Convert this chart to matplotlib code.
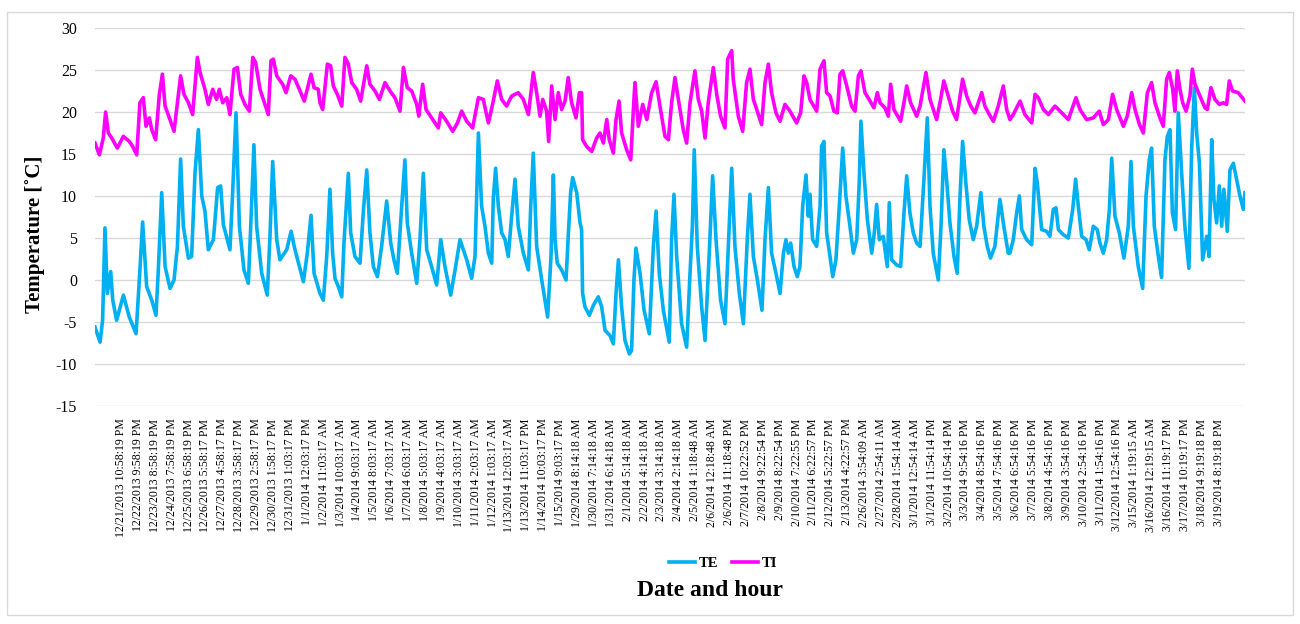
import matplotlib.pyplot as plt
from matplotlib.lines import Line2D
from matplotlib.patches import Rectangle

plt.rcParams['font.family'] = ['Liberation Serif', 'DejaVu Serif']
plt.rcParams['axes.unicode_minus'] = False

# category labels shown on the x axis (one every 23 records)
tick_labels = [
    '12/21/2013 10:58:19 PM', '12/22/2013 9:58:19 PM', '12/23/2013 8:58:19 PM',
    '12/24/2013 7:58:19 PM', '12/25/2013 6:58:19 PM', '12/26/2013 5:58:17 PM',
    '12/27/2013 4:58:17 PM', '12/28/2013 3:58:17 PM', '12/29/2013 2:58:17 PM',
    '12/30/2013 1:58:17 PM', '12/31/2013 1:03:17 PM', '1/1/2014 12:03:17 PM',
    '1/2/2014 11:03:17 AM', '1/3/2014 10:03:17 AM', '1/4/2014 9:03:17 AM',
    '1/5/2014 8:03:17 AM', '1/6/2014 7:03:17 AM', '1/7/2014 6:03:17 AM',
    '1/8/2014 5:03:17 AM', '1/9/2014 4:03:17 AM', '1/10/2014 3:03:17 AM',
    '1/11/2014 2:03:17 AM', '1/12/2014 1:03:17 AM', '1/13/2014 12:03:17 AM',
    '1/13/2014 11:03:17 PM', '1/14/2014 10:03:17 PM', '1/15/2014 9:03:17 PM',
    '1/29/2014 8:14:18 AM', '1/30/2014 7:14:18 AM', '1/31/2014 6:14:18 AM',
    '2/1/2014 5:14:18 AM', '2/2/2014 4:14:18 AM', '2/3/2014 3:14:18 AM',
    '2/4/2014 2:14:18 AM', '2/5/2014 1:18:48 AM', '2/6/2014 12:18:48 AM',
    '2/6/2014 11:18:48 PM', '2/7/2014 10:22:52 PM', '2/8/2014 9:22:54 PM',
    '2/9/2014 8:22:54 PM', '2/10/2014 7:22:55 PM', '2/11/2014 6:22:57 PM',
    '2/12/2014 5:22:57 PM', '2/13/2014 4:22:57 PM', '2/26/2014 3:54:09 AM',
    '2/27/2014 2:54:11 AM', '2/28/2014 1:54:14 AM', '3/1/2014 12:54:14 AM',
    '3/1/2014 11:54:14 PM', '3/2/2014 10:54:14 PM', '3/3/2014 9:54:16 PM',
    '3/4/2014 8:54:16 PM', '3/5/2014 7:54:16 PM', '3/6/2014 6:54:16 PM',
    '3/7/2014 5:54:16 PM', '3/8/2014 4:54:16 PM', '3/9/2014 3:54:16 PM',
    '3/10/2014 2:54:16 PM', '3/11/2014 1:54:16 PM', '3/12/2014 12:54:16 PM',
    '3/15/2014 1:19:15 AM', '3/16/2014 12:19:15 AM', '3/16/2014 11:19:17 PM',
    '3/17/2014 10:19:17 PM', '3/18/2014 9:19:18 PM', '3/19/2014 8:19:18 PM',
]

# TE (outdoor) - time in label steps, temperature in degC
te_time = [
    -1.54, -1.24, -1.09, -0.95, -0.81, -0.61, -0.49, -0.26, 0.14, 0.49, 0.89, 1.12, 1.28, 1.52, 1.82,
    2.07, 2.21, 2.41, 2.61, 2.90, 3.14, 3.34, 3.53, 3.69, 3.99, 4.18, 4.38, 4.58, 4.78, 4.97, 5.17,
    5.47, 5.72, 5.90, 6.06, 6.45, 6.61, 6.81, 7.01, 7.28, 7.54, 7.68, 7.87, 8.03, 8.33, 8.66, 8.82,
    8.98, 9.22, 9.41, 9.81, 10.07, 10.30, 10.80, 11.03, 11.25, 11.43, 11.78,
    11.98, 12.18, 12.37, 12.53, 12.67, 12.87, 13.07, 13.20, 13.46, 13.60, 13.85, 14.15, 14.35, 14.55,
    14.74, 14.94, 15.18, 15.43, 15.73, 15.97, 16.16, 16.36, 16.62, 16.81, 16.95, 17.21, 17.51, 17.70,
    17.90, 18.10, 18.39, 18.69, 18.93, 19.18, 19.52, 19.78, 20.07, 20.47, 20.76, 20.96, 21.16, 21.35,
    21.55, 21.75, 21.95, 22.04, 22.18, 22.34, 22.54, 22.74, 22.93, 23.13, 23.33, 23.52, 23.82, 24.12,
    24.26, 24.41, 24.61, 24.91, 25.26,
    25.46, 25.60, 25.70, 25.83, 26.09, 26.35, 26.48, 26.62, 26.74, 26.98, 27.18, 27.27, 27.33, 27.47,
    27.73, 27.97, 28.26, 28.46, 28.66, 28.95, 29.15, 29.31, 29.45, 29.64, 29.84, 30.10, 30.23, 30.37,
    30.49, 30.73, 30.97, 31.28, 31.52, 31.68, 31.87, 32.11, 32.46, 32.60, 32.74, 32.90, 33.19, 33.49,
    33.69, 33.83, 33.94, 34.12, 34.38, 34.58, 34.83, 35.03, 35.23, 35.50, 35.76, 35.96, 36.16, 36.35,
    36.61, 36.85, 37.08, 37.24, 37.44, 37.68, 37.95, 38.13, 38.33, 38.52, 38.78, 39.02,
    39.22, 39.37, 39.51, 39.65, 39.85, 40.04, 40.20, 40.36, 40.56, 40.69, 40.79, 40.95, 41.19, 41.39,
    41.48, 41.62, 41.78, 41.98, 42.14, 42.33, 42.53, 42.73, 42.92, 43.16, 43.36, 43.56, 43.71, 43.81,
    43.99, 44.19, 44.45, 44.60, 44.74, 44.90, 45.13, 45.37, 45.49, 45.63, 45.92, 46.16, 46.36, 46.52,
    46.71, 46.91, 47.11, 47.31, 47.54, 47.74, 47.90, 48.09, 48.39, 48.55, 48.72, 48.88, 49.08, 49.32,
    49.51, 49.67, 49.83, 50.02, 50.22, 50.46, 50.66, 50.91, 51.09, 51.29, 51.48, 51.74, 52.04, 52.27,
    52.53,
    52.63, 52.83, 53.03, 53.19, 53.33, 53.62, 53.92, 54.12, 54.25, 54.51, 54.80, 55.00, 55.20, 55.36,
    55.50, 55.79, 56.09, 56.35, 56.52, 56.68, 56.88, 57.14, 57.33, 57.57, 57.80, 57.96, 58.16, 58.36,
    58.52, 58.66, 58.85, 59.11, 59.38, 59.64, 59.80, 59.94, 60.23, 60.49, 60.69, 60.88, 61.02, 61.18,
    61.42, 61.61, 61.81, 61.95, 62.11, 62.25, 62.44, 62.60, 62.80, 62.99, 63.23, 63.39, 63.55, 63.69,
    63.85, 64.04, 64.28, 64.42, 64.58, 64.71, 64.87, 65.03, 65.17, 65.30, 65.50, 65.66, 65.86, 66.05,
    66.25, 66.45, 66.55,
]
te_temp = [
    -5.6, -7.4, -4.8, 6.2, -1.6, 1.0, -2.4, -4.8, -1.8, -4.4, -6.4, 1.2, 6.9, -0.8, -2.4,
    -4.2, 1.2, 10.4, 1.6, -1.0, 0.0, 4.0, 14.4, 6.4, 2.6, 2.8, 12.7, 17.9, 10.0, 8.2, 3.6,
    4.8, 11.0, 11.2, 6.6, 3.6, 10.4, 19.9, 6.4, 1.2, -0.4, 6.4, 16.1, 6.4, 0.8, -1.8, 5.2,
    14.1, 4.8, 2.4, 3.6, 5.8, 3.6, -0.2, 3.2, 7.7, 0.8, -1.6,
    -2.4, 2.8, 10.8, 3.2, 0.2, -0.8, -2.0, 4.4, 12.7, 5.6, 2.8, 2.0, 8.2, 13.1,
    5.6, 1.6, 0.4, 4.0, 9.4, 4.4, 2.4, 0.8, 8.8, 14.3, 6.8, 3.2, -0.4, 4.8,
    12.7, 3.6, 1.6, -0.6, 4.8, 1.6, -1.8, 1.2, 4.8, 2.4, 0.2, 2.8, 17.5, 8.8,
    6.4, 3.2, 2.0, 9.6, 13.3, 8.8, 5.6, 4.8, 2.8, 7.6, 12.0, 6.4, 3.2, 1.2,
    8.8, 15.1, 4.0, 0.0, -4.4,
    2.8, 12.5, 4.8, 2.0, 1.2, 0.0, 5.2, 10.4, 12.2, 10.4, 6.8, 6.0, -1.6, -3.2,
    -4.2, -3.0, -2.0, -3.2, -6.0, -6.6, -7.6, -1.6, 2.4, -3.2, -7.2, -8.8, -8.4, 0.0,
    3.8, 0.8, -3.6, -6.4, 4.0, 8.2, 0.8, -3.6, -7.4, 4.8, 10.2, 2.8, -5.2, -8.0,
    0.8, 6.4, 15.5, 4.0, -3.2, -7.2, 3.2, 12.4, 4.8, -2.4, -5.2, 4.0, 13.3, 4.0,
    -1.6, -5.2, 4.8, 10.2, 2.8, 0.0, -3.6, 4.8, 11.0, 3.2, 0.8, -1.6,
    3.2, 4.8, 3.2, 4.4, 1.6, 0.4, 1.6, 8.8, 12.5, 7.6, 10.2, 4.8, 4.0, 8.8,
    15.9, 16.5, 5.6, 2.8, 0.4, 2.4, 8.8, 15.7, 10.0, 6.4, 3.2, 4.8, 11.6, 18.9,
    12.7, 7.2, 3.2, 5.6, 9.0, 4.8, 5.2, 1.6, 9.2, 2.4, 1.8, 1.6, 8.0, 12.4,
    8.0, 5.6, 4.4, 4.0, 12.0, 19.3, 8.8, 3.2, 0.0, 6.4, 15.5, 12.0, 6.8, 2.8,
    0.8, 9.6, 16.5, 11.6, 7.2, 4.8, 6.4, 10.4, 6.4, 4.0, 2.6, 4.0, 9.6, 6.4,
    3.2,
    3.2, 4.8, 8.0, 10.0, 6.0, 4.8, 4.2, 13.3, 11.6, 6.0, 5.8, 5.2, 8.4, 8.6,
    6.0, 5.4, 5.0, 8.4, 12.0, 8.8, 5.2, 4.8, 3.6, 6.4, 6.0, 4.4, 3.2, 4.8,
    8.4, 14.5, 7.6, 5.6, 2.6, 6.4, 14.1, 6.4, 1.6, -1.0, 10.0, 14.3, 15.7, 6.4,
    2.8, 0.3, 14.3, 17.1, 17.9, 8.0, 6.0, 19.9, 12.7, 6.4, 1.4, 15.5, 22.9, 17.5,
    13.9, 2.4, 5.2, 2.8, 16.7, 9.6, 6.8, 11.2, 6.4, 10.8, 5.8, 13.1, 13.9, 12.0,
    10.0, 8.4, 10.4,
]

# TI (indoor)
ti_time = [
    -1.54, -1.28, -1.05, -0.91, -0.75, -0.55, -0.22, 0.14, 0.49, 0.69, 0.93, 1.12, 1.32, 1.48, 1.68,
    1.82, 2.05, 2.27, 2.45, 2.61, 2.90, 3.14, 3.34, 3.53, 3.73, 3.99, 4.24, 4.40, 4.52, 4.68,
    4.97, 5.17, 5.43, 5.66, 5.82, 6.02, 6.26, 6.45, 6.69, 6.89, 7.09, 7.34, 7.60, 7.80, 7.97,
    8.23, 8.72, 8.88, 9.02, 9.22, 9.57, 9.77, 10.05, 10.30, 10.56, 10.85, 11.25, 11.43, 11.68,
    11.78, 11.94, 12.22, 12.41, 12.57, 12.81, 13.07, 13.26, 13.46, 13.66, 13.95, 14.19, 14.55, 14.74,
    15.04, 15.30, 15.63, 15.93, 16.22, 16.52, 16.72, 16.95, 17.21, 17.51, 17.63, 17.86, 18.06, 18.39,
    18.79, 18.93, 19.28, 19.64, 19.92, 20.17, 20.47, 20.82, 21.16, 21.45, 21.75, 22.00, 22.28, 22.54,
    22.83, 23.13, 23.52, 23.82, 24.12, 24.41, 24.61, 24.81, 24.97, 25.20, 25.32,
    25.50, 25.70, 25.89, 26.09, 26.29, 26.48, 26.68, 26.94, 27.14, 27.27, 27.33, 27.57, 27.87, 28.16,
    28.36, 28.56, 28.76, 28.91, 29.15, 29.31, 29.49, 29.64, 29.94, 30.18, 30.37, 30.43, 30.63, 30.89,
    31.13, 31.42, 31.68, 31.91, 32.21, 32.41, 32.60, 32.80, 33.00, 33.29, 33.49, 33.69, 33.98, 34.18,
    34.38, 34.58, 34.77, 35.07, 35.27, 35.50, 35.76, 35.92, 36.16, 36.25, 36.55, 36.81, 37.04, 37.24,
    37.44, 37.64, 37.93, 38.13, 38.33, 38.52, 38.78, 39.02,
    39.31, 39.61, 40.00, 40.24, 40.44, 40.60, 40.79, 41.19, 41.39, 41.62, 41.78, 41.98, 42.21, 42.41,
    42.57, 42.73, 42.97, 43.26, 43.46, 43.66, 43.81, 44.05, 44.35, 44.58, 44.78, 44.94, 45.23, 45.43,
    45.57, 45.76, 46.16, 46.39, 46.52, 46.75, 47.11, 47.31, 47.66, 47.90, 48.29, 48.49, 48.72, 48.98,
    49.24, 49.47, 49.83, 50.07, 50.31, 50.56, 50.96, 51.15, 51.41, 51.65, 51.94, 52.24, 52.44,
    52.63, 52.83, 53.23, 53.52, 53.92, 54.12, 54.31, 54.61, 54.91, 55.30, 55.60, 56.09, 56.54, 56.78,
    57.17, 57.57, 57.92, 58.16, 58.46, 58.71, 58.95, 59.35, 59.58, 59.84, 60.04, 60.30, 60.53, 60.77,
    61.02, 61.22, 61.48, 61.71, 61.91, 62.07, 62.27, 62.40, 62.54, 62.70, 62.86, 63.06, 63.29, 63.43,
    63.59, 63.88, 64.18, 64.32, 64.53, 64.77, 65.03, 65.26, 65.46, 65.62, 65.81, 66.15, 66.55,
]
ti_temp = [
    16.3, 14.9, 16.9, 20.0, 17.5, 16.9, 15.7, 17.1, 16.5, 15.9, 14.9, 21.1, 21.7, 18.3, 19.3,
    17.9, 16.7, 22.1, 24.5, 20.7, 19.1, 17.7, 21.1, 24.3, 22.1, 21.1, 19.7, 23.5, 26.5, 24.7,
    22.7, 20.9, 22.7, 21.5, 22.7, 21.1, 21.7, 19.7, 25.1, 25.3, 22.1, 20.9, 20.1, 26.5, 25.9,
    22.7, 19.7, 26.1, 26.3, 24.3, 23.3, 22.3, 24.3, 23.9, 22.7, 21.3, 24.5, 22.9, 22.7,
    21.1, 20.3, 25.7, 25.5, 23.1, 22.1, 20.7, 26.5, 25.7, 23.5, 22.7, 21.3, 25.5, 23.3,
    22.5, 21.5, 23.5, 22.5, 21.7, 20.1, 25.3, 22.9, 22.5, 20.9, 19.5, 23.3, 20.3, 19.3,
    18.1, 19.9, 18.9, 17.7, 18.7, 20.1, 18.9, 18.1, 21.7, 21.5, 18.7, 20.9, 23.7, 21.5,
    20.7, 21.9, 22.3, 21.5, 19.7, 24.7, 22.3, 19.5, 21.5, 20.1, 16.5,
    23.1, 19.1, 22.3, 20.3, 21.3, 24.1, 21.1, 19.3, 22.3, 22.3, 16.7, 15.9, 15.3, 16.9,
    17.5, 16.3, 19.1, 16.7, 15.1, 19.1, 21.3, 17.5, 15.5, 14.3, 21.5, 23.5, 18.3, 20.9,
    19.1, 22.3, 23.6, 20.7, 17.1, 16.7, 21.1, 24.1, 21.5, 17.9, 16.3, 21.1, 24.9, 21.5,
    20.1, 16.9, 21.1, 25.3, 22.1, 19.5, 18.1, 26.3, 27.3, 23.9, 19.5, 17.7, 23.5, 25.1,
    21.5, 20.3, 18.5, 23.5, 25.7, 22.3, 19.9, 18.9,
    20.9, 20.1, 18.7, 19.9, 24.3, 23.5, 21.5, 20.1, 25.1, 26.1, 22.3, 21.9, 20.1, 19.9,
    24.5, 24.9, 23.1, 20.7, 20.1, 24.3, 24.9, 22.3, 21.3, 20.5, 22.3, 21.1, 20.5, 19.5,
    23.3, 20.3, 18.9, 21.5, 23.1, 21.1, 19.5, 20.7, 24.7, 21.5, 19.1, 21.1, 23.7, 21.9,
    20.1, 19.1, 23.9, 21.9, 20.7, 19.9, 22.3, 20.7, 19.7, 18.9, 20.7, 23.1, 20.3,
    19.1, 19.7, 21.3, 19.7, 18.7, 22.1, 21.7, 20.3, 19.7, 20.7, 20.1, 19.1, 21.7, 20.3,
    19.1, 19.3, 20.1, 18.5, 19.1, 22.1, 20.3, 18.3, 19.5, 22.3, 20.3, 18.5, 17.5, 22.3,
    23.5, 21.1, 19.5, 18.3, 23.9, 24.7, 22.7, 20.1, 24.9, 22.7, 21.1, 20.1, 21.9, 25.1,
    23.3, 21.9, 20.5, 20.3, 22.9, 21.5, 20.9, 21.1, 20.9, 23.7, 22.5, 22.3, 21.3,
]

W, H = 1300, 624
fig = plt.figure(figsize=(W / 100, H / 100), dpi=100)
fig.patches.append(Rectangle((7 / W, 9 / H), 1286 / W, 603 / H, transform=fig.transFigure,
                             fill=False, edgecolor='#d9d9d9', lw=1))

ax = fig.add_axes([95 / W, 1 - 406 / H, 1150 / W, 378 / H])
ax.plot(te_time, te_temp, color='#00b0f0', lw=2.6)
ax.plot(ti_time, ti_temp, color='#ff00ff', lw=2.6)

ax.set_xlim(-1.54, 66.55)
ax.set_ylim(-15, 30)
ax.set_yticks(range(-15, 31, 5))
ax.set_xticks(range(len(tick_labels)))
ax.set_xticklabels(tick_labels, rotation=90, fontsize=8.5)
ax.tick_params(length=0)
ax.tick_params(axis='y', labelsize=11.5, pad=13)
ax.tick_params(axis='x', pad=9)
ax.grid(axis='y', color='#d9d9d9', lw=1)
ax.set_axisbelow(True)
for s in ax.spines.values():
    s.set_visible(False)

fig.text(35 / W, 1 - 234 / H, 'Temperature [˚C]', rotation=90, ha='center', va='center',
         fontsize=15, fontweight='bold')
fig.text(710 / W, 1 - 590 / H, 'Date and hour', ha='center', va='center',
         fontsize=17, fontweight='bold')

handles = [Line2D([], [], color='#00b0f0', lw=2.6), Line2D([], [], color='#ff00ff', lw=2.6)]
fig.legend(handles, ['TE', 'TI'], loc='center', bbox_to_anchor=(723 / W, 1 - 563 / H),
           ncol=2, frameon=False, handlelength=1.8, columnspacing=0.9, handletextpad=0.25,
           prop={'weight': 'bold', 'size': 10.5})

fig.savefig('out.png', dpi=100)
